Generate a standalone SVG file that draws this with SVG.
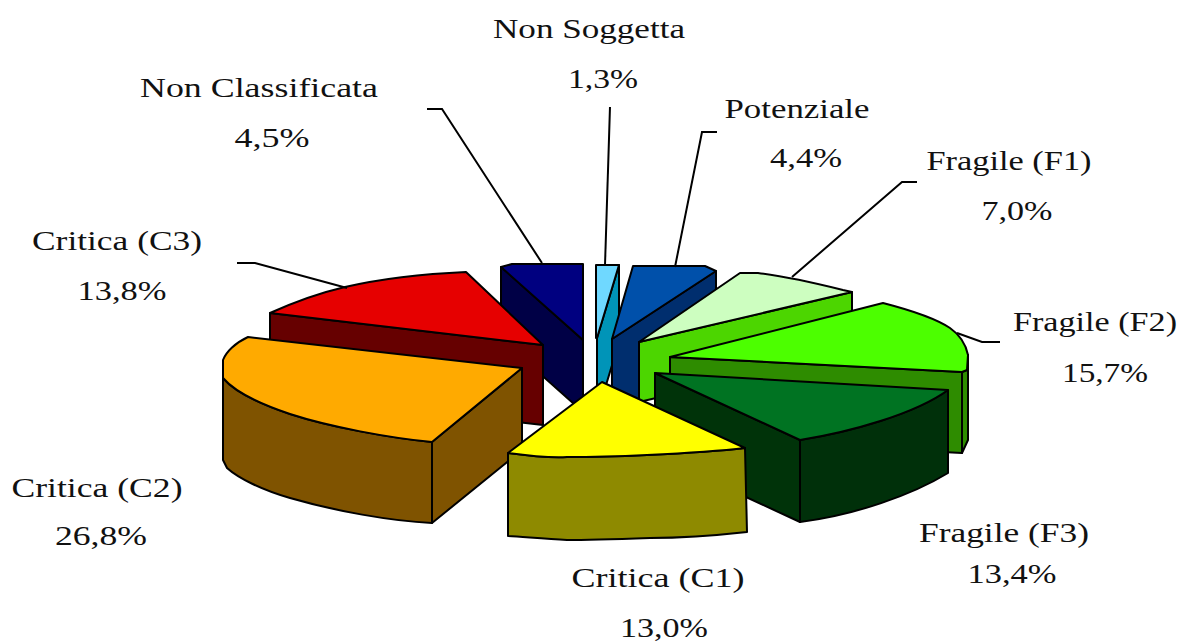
<svg xmlns="http://www.w3.org/2000/svg" width="1192" height="644" viewBox="0 0 1192 644">
<style>
.e{stroke:#000;stroke-width:2;stroke-linejoin:round}
.l{fill:none;stroke:#000;stroke-width:2}
text{font-family:"Liberation Serif","Times New Roman",serif;font-size:28px;fill:#111;text-anchor:middle}
</style>
<rect width="1192" height="644" fill="#fff"/>
<g id="non-classificata">
<path class="e" fill="#000046" d="M501,267 L583,340 L583,412 L501,339 Z"/>
<path class="e" fill="#000080" d="M501,267 L512,264 L583,264 L583,340 Z"/>
<text x="259" y="97" textLength="238" lengthAdjust="spacingAndGlyphs">Non Classificata</text>
<text x="272" y="147" textLength="75" lengthAdjust="spacingAndGlyphs">4,5%</text>
</g>
<g id="non-soggetta">
<path class="e" fill="#0094B8" d="M619,265 L597,338 L597,415 L619,342 Z"/>
<path class="e" fill="#6FD8FF" d="M596,265 L619,265 L597,338 L596,338 Z"/>
<text x="589" y="38" textLength="192" lengthAdjust="spacingAndGlyphs">Non Soggetta</text>
<text x="603" y="88" textLength="70" lengthAdjust="spacingAndGlyphs">1,3%</text>
</g>
<g id="potenziale">
<path class="e" fill="#002E6E" d="M716,271 L612,339 L612,420 L716,352 Z"/>
<path class="e" fill="#0050AA" d="M633,266 L705,266 L716,271 L612,339 Z"/>
<text x="797" y="118" textLength="145" lengthAdjust="spacingAndGlyphs">Potenziale</text>
<text x="806" y="167" textLength="72" lengthAdjust="spacingAndGlyphs">4,4%</text>
</g>
<g id="fragile-f1">
<path class="e" fill="#4CD600" d="M852,292 L639,342 L639,402 L852,352 Z"/>
<path class="e" fill="#CDFEC0" d="M639,342 L740,273 L758,273 C790,277 815,283 843,290 L852,292 Z"/>
<text x="1009" y="170" textLength="165" lengthAdjust="spacingAndGlyphs">Fragile (F1)</text>
<text x="1017" y="220" textLength="71" lengthAdjust="spacingAndGlyphs">7,0%</text>
</g>
<g id="fragile-f2">
<path class="e" fill="#2E8C00" d="M670,357 L962,372 L962,453 L670,438 Z"/>
<path class="e" fill="#2E8C00" d="M962,372 L967,370 L968,355 L968,440 L962,453 Z"/>
<path class="e" fill="#4CFF00" d="M670,357 L883,303 C910,310 935,318 950,328 C960,335 966,345 968,355 L967,370 L962,372 Z"/>
<text x="1095" y="331" textLength="164" lengthAdjust="spacingAndGlyphs">Fragile (F2)</text>
<text x="1105" y="382" textLength="86" lengthAdjust="spacingAndGlyphs">15,7%</text>
</g>
<g id="critica-c3">
<path class="e" fill="#660000" d="M270,313 L543,345 L543,425 L270,393 Z"/>
<path class="e" fill="#E60000" d="M270,313 C290,304 315,294 345,287 C380,279 420,274 466,272 L543,345 Z"/>
<text x="117" y="250" textLength="170" lengthAdjust="spacingAndGlyphs">Critica (C3)</text>
<text x="122" y="300" textLength="89" lengthAdjust="spacingAndGlyphs">13,8%</text>
</g>
<g id="fragile-f3">
<path class="e" fill="#003309" d="M655,373 L800,440 L800,522 L655,455 Z"/>
<path class="e" fill="#00300A" d="M800,440 C850,432 915,414 948,390 L948,473 C912,495 855,515 800,522 Z"/>
<path class="e" fill="#007322" d="M655,373 L948,390 C915,414 850,432 800,440 Z"/>
<text x="1004" y="542" textLength="170" lengthAdjust="spacingAndGlyphs">Fragile (F3)</text>
<text x="1012" y="583" textLength="89" lengthAdjust="spacingAndGlyphs">13,4%</text>
</g>
<g id="critica-c2">
<path class="e" fill="#7F5300" d="M522,368 L432,442 L432,523 L522,450 Z"/>
<path class="e" fill="#7F5300" d="M223,378 C235,392 260,404 290,414 C330,427 390,438 432,442 L432,523 C390,521 335,511 290,498 C262,490 238,478 227,468 L223,460 Z"/>
<path class="e" fill="#FFAA00" d="M248,337 L522,368 L432,442 C390,438 330,427 290,414 C260,404 235,392 223,378 L223,360 C226,352 235,343 248,337 Z"/>
<text x="97" y="497" textLength="171" lengthAdjust="spacingAndGlyphs">Critica (C2)</text>
<text x="101" y="545" textLength="92" lengthAdjust="spacingAndGlyphs">26,8%</text>
</g>
<g id="critica-c1">
<path class="e" fill="#8E8A00" d="M508,453 C530,456 550,458 567,457 C600,457 625,456 647,455 C690,453 720,451 745,448 L747,532 C720,535 690,538 650,538 C620,539 590,540 567,540 C545,539 525,537 508,536 Z"/>
<path class="e" fill="#FFFF00" d="M602,382 L745,448 C720,451 690,453 647,455 C625,456 600,457 567,457 C550,458 530,456 508,453 Z"/>
<text x="658" y="587" textLength="173" lengthAdjust="spacingAndGlyphs">Critica (C1)</text>
<text x="664" y="637" textLength="88" lengthAdjust="spacingAndGlyphs">13,0%</text>
</g>
<g id="connectors">
<polyline class="l" points="427,109 442,109 542,263"/>
<polyline class="l" points="610,107 605,265"/>
<polyline class="l" points="717,132 702,132 675,267"/>
<polyline class="l" points="917,182 902,182 792,277"/>
<polyline class="l" points="1000,342 982,342 957,333"/>
<polyline class="l" points="237,263 255,263 347,288"/>
</g>
</svg>
